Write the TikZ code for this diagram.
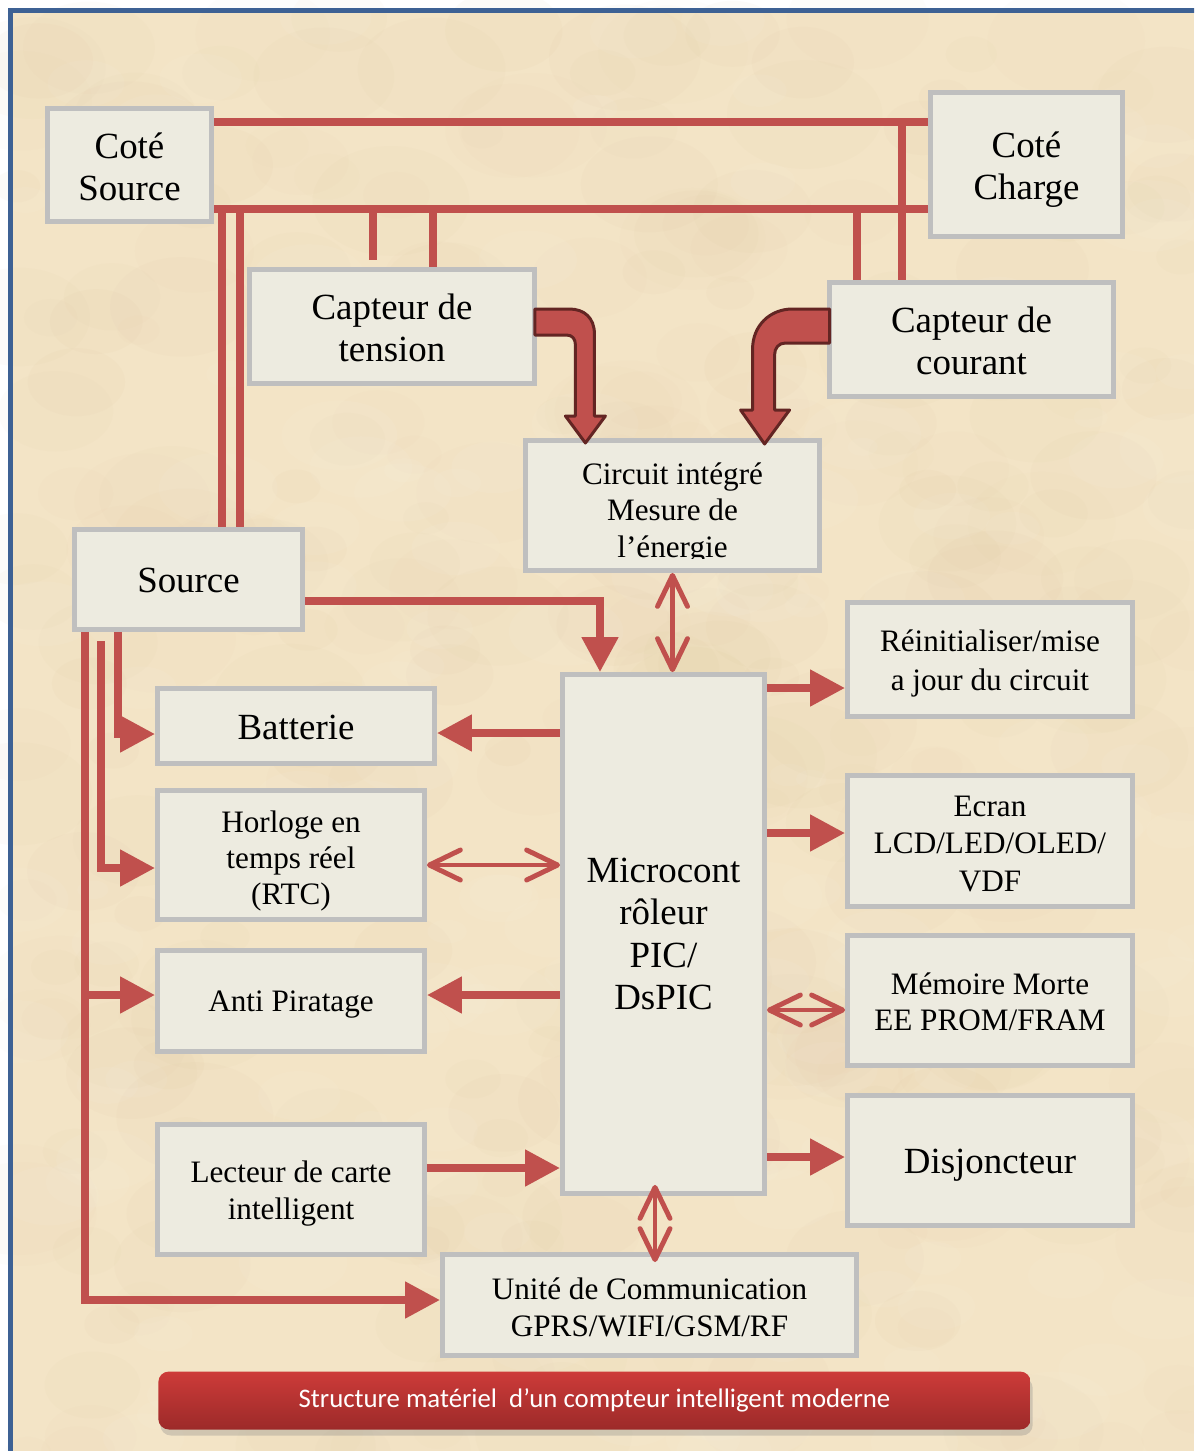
\documentclass[tikz,border=0pt]{standalone}
\usepackage{fontspec}
\setmainfont{Liberation Serif}
\newfontfamily\capfont{Carlito}
\usetikzlibrary{arrows.meta,calc,shadows}

\definecolor{parch}{HTML}{F3E4C6}
\definecolor{parchdark}{HTML}{D4B98C}
\definecolor{frameblue}{HTML}{3D6194}
\definecolor{boxfill}{HTML}{EDEBE0}
\definecolor{boxline}{HTML}{BFBFBF}
\definecolor{wirered}{HTML}{C0504D}
\definecolor{darkred}{HTML}{632523}
\definecolor{captop}{HTML}{CD3B39}
\definecolor{capbot}{HTML}{9C2A29}

\tikzset{
  blk/.style={draw=boxline, fill=boxfill, line width=2.8pt, inner sep=0pt},
  lbl/.style={align=center, text=black, inner sep=0pt},
  bigtxt/.style={lbl, font=\fontsize{21}{24}\selectfont},
  smalltxt/.style={lbl, font=\fontsize{17.75}{20.7}\selectfont},
  wire/.style={draw=wirered, line width=4.5pt},
  arrowto/.style={-{Triangle[length=0.7cm,width=0.7cm]}},
  bothways/.style={draw=wirered, line width=2.8pt,
     {Straight Barb[length=0.62cm,width=0.6cm,round]}-{Straight Barb[length=0.62cm,width=0.6cm,round]}},
  bent/.style={fill=wirered, draw=darkred, line width=1.7pt, line join=round},
  caption/.style={rounded corners=6pt, top color=captop, bottom color=capbot,
     draw=none, minimum width=17.45cm, minimum height=1.16cm, text=white,
     font=\capfont\fontsize{15.25}{18}\selectfont,
     drop shadow={opacity=0.3, shadow xshift=0.4mm, shadow yshift=-1.2mm}},
}

\begin{document}
\begin{tikzpicture}[x=0.02cm, y=-0.02cm]
\useasboundingbox (0,0) rectangle (1194,1451);
\clip (0,0) rectangle (1194,1451);

% paper and frame
\fill[white] (0,0) rectangle (1194,1451);
\fill[parch] (10,10) rectangle (1194,1451);
\pgfmathsetseed{42}
\foreach \k in {1,...,320}{
  \pgfmathsetmacro\bx{10+rnd*1190}
  \pgfmathsetmacro\by{10+rnd*1445}
  \pgfmathsetmacro\br{20+rnd*60}
  \pgfmathsetmacro\bo{0.02+rnd*0.035}
  \fill[parchdark, opacity=\bo] (\bx,\by) ellipse[x radius=\br, y radius=0.7*\br];
}
\foreach \k in {1,...,160}{
  \pgfmathsetmacro\bx{10+rnd*1190}
  \pgfmathsetmacro\by{10+rnd*1445}
  \pgfmathsetmacro\br{15+rnd*45}
  \fill[white, opacity=0.05] (\bx,\by) ellipse[x radius=\br, y radius=0.6*\br];
}
\draw[frameblue, line width=2.6pt] (10.5,1500) -- (10.5,10.5) -- (1250,10.5);

% blocks
\node[blk, minimum width=3.28cm, minimum height=2.26cm] (cs) at (129.5,165) {};
\node[blk, minimum width=3.84cm, minimum height=2.88cm] (cc) at (1026.5,164.5) {};
\node[blk, minimum width=5.7cm, minimum height=2.28cm] (tension) at (392,326.5) {};
\node[blk, minimum width=5.68cm, minimum height=2.28cm] (courant) at (971.5,339.5) {};
\node[blk, minimum width=5.88cm, minimum height=2.6cm] (circuit) at (672.5,505.5) {};
\node[blk, minimum width=4.56cm, minimum height=2.0cm] (source) at (188.5,579.5) {};
\node[blk, minimum width=5.54cm, minimum height=1.5cm] (batt) at (296,726) {};
\node[blk, minimum width=5.34cm, minimum height=2.58cm] (horl) at (291,855) {};
\node[blk, minimum width=5.34cm, minimum height=2.02cm] (anti) at (291,1001) {};
\node[blk, minimum width=5.34cm, minimum height=2.6cm] (lect) at (291,1189.5) {};
\node[blk, minimum width=4.04cm, minimum height=10.38cm] (micro) at (663.5,934) {};
\node[blk, minimum width=5.7cm, minimum height=2.28cm] (reinit) at (990,659.5) {};
\node[blk, minimum width=5.7cm, minimum height=2.62cm] (ecran) at (990,841) {};
\node[blk, minimum width=5.7cm, minimum height=2.6cm] (memoire) at (990,1000.5) {};
\node[blk, minimum width=5.7cm, minimum height=2.6cm] (disj) at (990,1160.5) {};
\node[blk, minimum width=8.28cm, minimum height=2.02cm] (unite) at (649.5,1305) {};

% block texts
\node[bigtxt] (cs-t) at (129.5,166.5) {Coté\\Source};
\node[bigtxt] (cc-t) at (1026.5,170) {Coté\\Charge};
\node[bigtxt] (tension-t) at (392,327.5) {Capteur de\\tension};
\node[bigtxt] (courant-t) at (971.5,340.5) {Capteur de\\courant};
\node[bigtxt] (source-t) at (188.5,580.5) {Source};
\node[bigtxt] (batt-t) at (296,727) {Batterie};
\node[smalltxt] (horl-t) at (291,861) {Horloge en\\temps réel\\(RTC)};
\node[smalltxt] (anti-t) at (291,1005) {Anti Piratage};
\node[smalltxt] (lect-t) at (291,1193.5) {Lecteur de carte\\intelligent};
\node[bigtxt] (micro-t) at (663.5,934) {Microcont\\rôleur\\PIC/\\DsPIC};
\node[lbl, font=\fontsize{17.75}{22}\selectfont] (reinit-t) at (990,663.5) {Réinitialiser/mise\\a jour du circuit};
\node[lbl, font=\fontsize{17.75}{21.2}\selectfont] (ecran-t) at (990,844) {Ecran\\LCD/LED/OLED/\\VDF};
\node[smalltxt] (memoire-t) at (990,1001.5) {Mémoire Morte\\EE PROM/FRAM};
\node[bigtxt] (disj-t) at (990,1165.5) {Disjoncteur};
\node[smalltxt] (unite-t) at (649.5,1307.5) {Unité de Communication\\GPRS/WIFI/GSM/RF};

% measurement chip label, cut by the inner edge of its box
\begin{scope}
  \clip ($(circuit.north west)+(2.5,2.5)$) rectangle (820,558);
  \node[lbl, font=\fontsize{17.75}{21}\selectfont] (circuit-t) at (672.5,513.5) {Circuit intégré\\Mesure de\\l’énergie};
\end{scope}

% helper levels
\coordinate (yTop) at (0,122);
\coordinate (yBus) at (0,209);
\coordinate (xC1) at (902,0);
\coordinate (xC2) at (857,0);
\coordinate (xT1) at (373,0);
\coordinate (xT2) at (433,0);
\coordinate (xS1) at (222,0);
\coordinate (xS2) at (240,0);
\coordinate (stubend) at (373,260);
\coordinate (ySM) at (0,601);
\coordinate (xSM) at (600,0);
\coordinate (xL1) at (85,0);
\coordinate (xL3) at (118,0);
\coordinate (rtcstart) at (101,641);
\coordinate (yU) at (0,1300);
\coordinate (yAnti) at (0,995);
\coordinate (yRTC) at (0,868);
\coordinate (yBat) at (0,734);
\coordinate (yBatM) at (0,733);
\coordinate (yH) at (0,865);
\coordinate (yLc) at (0,1168);
\coordinate (yR1) at (0,688);
\coordinate (yR2) at (0,833);
\coordinate (yR3) at (0,1010);
\coordinate (yR4) at (0,1157);
\coordinate (xMU) at (655,0);

% power buses between source side and load side
\draw[wire] (cs.east |- yTop) -- (cc.west |- yTop);
\draw[wire] (cs.east |- yBus) -- (cc.west |- yBus);
\draw[wire] (xC1 |- yTop) -- (xC1 |- courant.north);
\draw[wire] (xC2 |- yBus) -- (xC2 |- courant.north);
\draw[wire] (xT1 |- yBus) -- (stubend);
\draw[wire] (xT2 |- yBus) -- (xT2 |- tension.north);
\draw[wire] (xS1 |- yBus) -- (xS1 |- source.north);
\draw[wire] (xS2 |- yBus) -- (xS2 |- source.north);

% supply lines from the source
\draw[wire, arrowto] (source.east |- ySM) -| (xSM |- micro.north);
\draw[wire, arrowto] (xL1 |- source.south) |- (unite.west |- yU);
\draw[wire, arrowto] (xL1 |- yAnti) -- (anti.west |- yAnti);
\draw[wire, arrowto] (rtcstart) |- (horl.west |- yRTC);
\draw[wire, arrowto] (xL3 |- source.south) |- (batt.west |- yBat);

% microcontroller links
\draw[bothways] (circuit.south) -- (circuit.south |- micro.north);
\draw[wire, arrowto] (micro.west |- yBatM) -- (batt.east |- yBatM);
\draw[bothways] (horl.east |- yH) -- (micro.west |- yH);
\draw[wire, arrowto] (micro.west |- yAnti) -- (anti.east |- yAnti);
\draw[wire, arrowto] (lect.east |- yLc) -- (micro.west |- yLc);
\draw[wire, arrowto] (micro.east |- yR1) -- (reinit.west |- yR1);
\draw[wire, arrowto] (micro.east |- yR2) -- (ecran.west |- yR2);
\draw[bothways] (micro.east |- yR3) -- (memoire.west |- yR3);
\draw[wire, arrowto] (micro.east |- yR4) -- (disj.west |- yR4);
\draw[bothways, shorten <=-0.22cm, shorten >=-0.2cm] (xMU |- micro.south) -- (xMU |- unite.north);

% bent arrows from the sensors into the measurement chip
\begin{scope}[shift={(tension.east)}]
  \path[bent] (-2,-17.5) -- (32.5,-17.5) .. controls (47.5,-17.5) and (57.5,-8.5) .. (57.5,7.5)
    -- (57.5,89.5) -- (68.5,89.5) -- (48.5,116.5) -- (28.5,89.5) -- (38.5,89.5) -- (38.5,18.5)
    .. controls (38.5,12.5) and (35.5,8.5) .. (29.5,8.5) -- (-2,8.5) -- cycle;
\end{scope}
\begin{scope}[shift={(courant.west)}]
  \path[bent] (2.5,-30.5) -- (-34.5,-30.5) .. controls (-57.5,-30.5) and (-74.5,-13.5) .. (-74.5,9.5)
    -- (-74.5,70.5) -- (-86.5,70.5) -- (-62.5,104.5) -- (-37.5,70.5) -- (-52.5,70.5) -- (-52.5,15.5)
    .. controls (-52.5,8.5) and (-48.5,3.5) .. (-41.5,3.5) -- (2.5,3.5) -- cycle;
\end{scope}

% caption banner
\node[caption] (cap) at (594.5,1400.5) {Structure matériel\ \ d’un compteur intelligent moderne};
\end{tikzpicture}
\end{document}
